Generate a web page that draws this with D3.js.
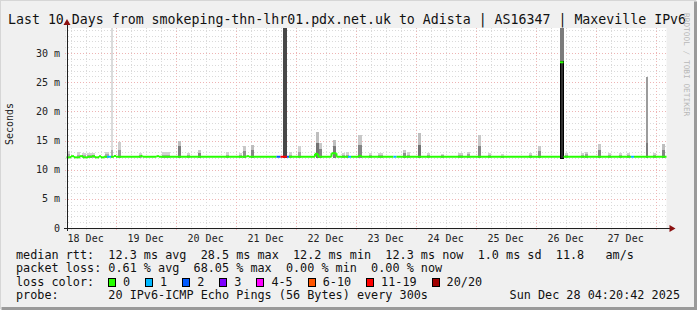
<!DOCTYPE html>
<html>
<head>
<meta charset="utf-8">
<script src="https://cdn.jsdelivr.net/npm/d3@7"></script>
<style>
  body { margin: 0; background: #f0f0f0; }
  svg { display: block; }
  text { font-family: "DejaVu Sans Mono", monospace; white-space: pre; }
</style>
</head>
<body>
<div id="chart"></div>
<script>
(function(){
  'use strict';

  var titleText = 'Last 10 Days from smokeping-thn-lhr01.pdx.net.uk to Adista | AS16347 | Maxeville IPv6';
  var endTime = Date.UTC(2025, 11, 28, 4, 20, 42);
  var spanHours = 240;

  // y ticks (ms)
  var yTicks = [0, 5, 10, 15, 20, 25, 30];

  // median rtt, step changes (hours since start, ms)
  var medHour = [0, 1.8, 3.0, 5.4, 6.6, 8.6, 10.2, 11.4, 13.0, 13.8, 15.0, 19.0, 19.8, 29.6, 30.4, 36.0, 37.0, 72.0, 73.0, 99.4, 100.6, 106.0, 108.0, 116.8, 118.0, 197.4, 198.8];
  var medMs   = [12.2, 12.4, 12.2, 12.4, 12.2, 12.3, 12.4, 12.2, 12.4, 12.2, 12.3, 12.45, 12.3, 12.45, 12.3, 12.4, 12.3, 12.4, 12.3, 12.8, 12.3, 12.9, 12.3, 12.45, 12.3, 28.5, 12.3];

  // packet loss runs (everything else is 0 lost)
  var lossStart = [16.2, 84.0, 85.6, 88.2, 112.6, 130.8, 225.8];
  var lossEnd   = [17.8, 85.6, 88.2, 89.0, 113.8, 132.0, 227.0];
  var lossLevel = [1, 2, 6, 2, 1, 1, 1];

  var lossLabels = ['0', '1', '2', '3', '4-5', '6-10', '11-19', '20/20'];
  var lossColors = ['#26ff00', '#00b8ff', '#0059ff', '#7e00ff', '#ff00ff', '#ff5500', '#ff0000', '#a10000'];

  // smoke columns: centre hour, width (h), top (ms), top of dark core (ms), tone of top / core
  var smokeHour = [0.6, 4.6, 7.0, 9.8, 16.2, 18.2, 21.0, 29.4, 39.8, 45.0, 48.6, 53.0, 64.2, 69.4, 71.0, 74.2, 87.4, 89.4, 93.0, 100.2, 101.4, 107.0, 110.6, 112.2, 117.4, 121.4, 125.4, 135.0, 136.6, 141.0, 144.6, 150.2, 157.4, 160.6, 165.0, 169.0, 174.2, 185.4, 189.0, 198.1, 199.8, 206.2, 207.8, 213.0, 217.0, 221.4, 224.6, 232.2, 235.0, 238.6];
  var smokeSpan = [1.2, 1.2, 1.6, 3.2, 1.6, 0.8, 1.2, 1.2, 3.0, 1.2, 1.2, 1.2, 1.2, 1.2, 1.2, 1.2, 1.4, 1.2, 1.2, 1.2, 1.2, 1.2, 1.2, 1.2, 1.8, 1.2, 2.0, 1.2, 1.2, 1.2, 1.2, 1.2, 2.0, 1.2, 1.2, 1.2, 1.2, 1.2, 1.2, 1.4, 1.2, 1.2, 1.2, 1.2, 1.2, 1.2, 1.2, 1.0, 1.2, 1.2];
  var smokeTop  = [13.2, 13.0, 12.9, 12.8, 13.1, 35, 14.8, 12.9, 13.0, 15.0, 12.8, 13.4, 13.0, 12.9, 14.1, 14.3, 35, 13.0, 14.0, 16.4, 14.5, 15.1, 12.9, 13.0, 16.0, 12.9, 12.8, 13.4, 13.0, 16.3, 12.9, 12.7, 12.9, 13.1, 16.0, 12.9, 12.7, 12.9, 14.1, 35, 12.9, 12.9, 13.1, 14.4, 12.9, 12.8, 12.8, 25.9, 12.8, 14.4];
  var smokeCore = [12.7, 12.6, 12.5, 12.5, 12.7, 13.3, 13.4, 12.5, 12.6, 14.0, 12.5, 12.9, 12.6, 12.5, 13.2, 13.4, 35, 12.6, 13.0, 14.6, 13.6, 14.0, 12.5, 12.6, 14.2, 12.5, 12.5, 12.9, 12.6, 14.2, 12.5, 12.5, 12.5, 12.7, 14.0, 12.5, 12.4, 12.5, 13.2, 28.5, 12.5, 12.5, 12.7, 13.3, 12.5, 12.5, 12.5, 14.5, 12.5, 13.4];
  var smokeTone = [0.1, 0.1, 0.1, 0.1, 0.1, 0.05, 0.12, 0.08, 0.1, 0.2, 0.1, 0.15, 0.1, 0.08, 0.15, 0.2, 0.82, 0.1, 0.1, 0.2, 0.15, 0.2, 0.1, 0.1, 0.15, 0.08, 0.1, 0.15, 0.1, 0.2, 0.1, 0.08, 0.12, 0.12, 0.15, 0.1, 0.08, 0.1, 0.15, 0.55, 0.1, 0.1, 0.12, 0.15, 0.1, 0.08, 0.1, 0.38, 0.1, 0.2];
  var coreTone  = [0.3, 0.3, 0.3, 0.3, 0.3, 0.3, 0.4, 0.3, 0.3, 0.55, 0.3, 0.5, 0.3, 0.3, 0.45, 0.5, 0.82, 0.3, 0.35, 0.6, 0.5, 0.55, 0.3, 0.3, 0.5, 0.3, 0.3, 0.45, 0.3, 0.6, 0.3, 0.3, 0.3, 0.35, 0.5, 0.3, 0.3, 0.3, 0.45, 0.95, 0.3, 0.3, 0.35, 0.5, 0.3, 0.3, 0.3, 0.55, 0.3, 0.5];

  var rttLine  = 'median rtt:  12.3 ms avg  28.5 ms max  12.2 ms min  12.3 ms now  1.0 ms sd  11.8   am/s';
  var lossLine = 'packet loss: 0.61 % avg  68.05 % max  0.00 % min  0.00 % now';
  var probeLine = 'probe:       20 IPv6-ICMP Echo Pings (56 Bytes) every 300s';
  var stampText = 'Sun Dec 28 04:20:42 2025';

  var W = 697, H = 310;
  var left = 66.5, right = 666.5, top = 28, bottom = 228;
  var startTime = endTime - spanHours * 3600e3;

  var x = d3.scaleUtc().domain([startTime, endTime]).range([left, right]);
  var y = d3.scaleLinear().domain([0, 34.29]).range([bottom, top]);
  var hx = function(h){ return x(startTime + h * 3600e3); };
  var grey = d3.interpolateRgb('#e4e4e4', '#262626');

  var svg = d3.select('#chart').append('svg')
    .attr('width', W).attr('height', H);

  // frame
  svg.append('rect').attr('width', W).attr('height', H).attr('fill', '#f0f0f0');
  svg.append('path').attr('d', 'M0,309 V0 H696').attr('stroke', '#d6d6d6').attr('stroke-width', 2).attr('fill', 'none');
  svg.append('path').attr('d', 'M1.5,308.5 H695.5 V1.5').attr('stroke', '#9a9a9a').attr('stroke-width', 3).attr('fill', 'none');

  // canvas
  svg.append('rect').attr('x', left).attr('y', top).attr('width', right - left).attr('height', bottom - top).attr('fill', '#ffffff');

  // grid
  var minorCol = '#dadada', majorCol = '#eeb4b4';
  var grid = svg.append('g').attr('shape-rendering', 'crispEdges').attr('fill', 'none');
  var minorMs = d3.range(1, 35).filter(function(v){ return v % 5 !== 0; });
  grid.selectAll('.hmin').data(minorMs).enter().append('line')
    .attr('x1', left - 2).attr('x2', right)
    .attr('y1', function(d){ return Math.round(y(d)) + 0.5; })
    .attr('y2', function(d){ return Math.round(y(d)) + 0.5; })
    .attr('stroke', minorCol).attr('stroke-dasharray', '1,2');
  var sixHours = d3.utcHour.every(6).range(new Date(startTime), new Date(endTime))
    .filter(function(d){ return d.getUTCHours() !== 0; });
  grid.selectAll('.vmin').data(sixHours).enter().append('line')
    .attr('x1', function(d){ return Math.round(x(d)) + 0.5; })
    .attr('x2', function(d){ return Math.round(x(d)) + 0.5; })
    .attr('y1', top).attr('y2', bottom + 2)
    .attr('stroke', minorCol).attr('stroke-dasharray', '1,2');
  grid.selectAll('.hmaj').data(yTicks.slice(1)).enter().append('line')
    .attr('x1', left - 2).attr('x2', right)
    .attr('y1', function(d){ return Math.round(y(d)) + 0.5; })
    .attr('y2', function(d){ return Math.round(y(d)) + 0.5; })
    .attr('stroke', majorCol).attr('stroke-dasharray', '1,2');
  var days = d3.utcDay.range(new Date(startTime), new Date(endTime));
  grid.selectAll('.vmaj').data(days).enter().append('line')
    .attr('x1', function(d){ return Math.round(x(d)) + 0.5; })
    .attr('x2', function(d){ return Math.round(x(d)) + 0.5; })
    .attr('y1', top).attr('y2', bottom + 2)
    .attr('stroke', majorCol).attr('stroke-dasharray', '1,2');

  // smoke
  var smoke = svg.append('g').attr('shape-rendering', 'crispEdges');
  var yc = function(v){ return y(Math.min(v, 34.29)); };
  smokeHour.forEach(function(h, i){
    var x0 = hx(h - smokeSpan[i] / 2), x1 = hx(h + smokeSpan[i] / 2);
    smoke.append('rect').attr('x', x0).attr('width', x1 - x0)
      .attr('y', yc(smokeTop[i])).attr('height', y(12.0) - yc(smokeTop[i]))
      .attr('fill', grey(smokeTone[i]));
    smoke.append('rect').attr('x', x0).attr('width', x1 - x0)
      .attr('y', yc(smokeCore[i])).attr('height', y(12.0) - yc(smokeCore[i]))
      .attr('fill', grey(coreTone[i]))
      .attr('stroke', coreTone[i] > 0.9 ? '#000' : 'none');
  });

  // median line, coloured by loss
  var levelAt = function(h){
    for (var k = 0; k < lossStart.length; k++) {
      if (h >= lossStart[k] && h < lossEnd[k]) return lossLevel[k];
    }
    return 0;
  };
  var medAt = function(h){
    var i = d3.bisectRight(medHour, h) - 1;
    return medMs[Math.max(i, 0)];
  };
  var cuts = Array.from(new Set(medHour.concat(lossStart, lossEnd, [spanHours]))).sort(d3.ascending);
  var med = svg.append('g').attr('fill', 'none').attr('stroke-width', 2);
  for (var c = 0; c < cuts.length - 1; c++) {
    var a = cuts[c], b = cuts[c + 1];
    var col = lossColors[levelAt(a)];
    var v = medAt(a);
    med.append('line').attr('x1', hx(a)).attr('x2', hx(b))
      .attr('y1', y(v) + 0.5).attr('y2', y(v) + 0.5).attr('stroke', col);
    if (c > 0) {
      var pv = medAt(cuts[c - 1]);
      if (Math.abs(pv - v) < 1) {
        med.append('line').attr('x1', hx(a)).attr('x2', hx(a))
          .attr('y1', y(pv) + 0.5).attr('y2', y(v) + 0.5).attr('stroke', col);
      }
    }
  }

  // axes
  var axisCol = '#202020', arrowCol = '#8b1010';
  svg.append('line').attr('x1', left - 3).attr('x2', right + 3).attr('y1', bottom + 0.5).attr('y2', bottom + 0.5)
    .attr('stroke', axisCol).attr('shape-rendering', 'crispEdges');
  svg.append('line').attr('x1', left + 0.5).attr('x2', left + 0.5).attr('y1', bottom + 3).attr('y2', top - 4)
    .attr('stroke', axisCol).attr('shape-rendering', 'crispEdges');
  svg.append('path').attr('d', 'M' + (right + 3) + ',' + (bottom - 3) + ' l6,3.5 l-6,3.5 z').attr('fill', arrowCol);
  svg.append('path').attr('d', 'M' + (left - 3) + ',' + (top - 3) + ' l3.5,-6 l3.5,6 z').attr('fill', arrowCol);

  svg.append('g').selectAll('text').data(yTicks).enter().append('text')
    .attr('x', 60).attr('y', function(d){ return y(d) + 3.5; })
    .attr('text-anchor', 'end').attr('font-size', 10).attr('fill', '#222')
    .text(function(d){ return d === 0 ? '0' : d + ' m'; });

  // day labels centred on noon of each day
  var fmt = d3.utcFormat('%d %b');
  svg.append('g').selectAll('text').data(days).enter().append('text')
    .attr('x', function(d){ return x(d) - 30; }).attr('y', 242)
    .attr('text-anchor', 'middle').attr('font-size', 10).attr('fill', '#222')
    .text(function(d){ return fmt(d3.utcDay.offset(d, -1)); });

  svg.append('text').attr('transform', 'translate(13,124) rotate(-90)')
    .attr('text-anchor', 'middle').attr('font-size', 10).attr('fill', '#222').text('Seconds');

  // title + watermark
  svg.append('text').attr('x', 8).attr('y', 24).attr('font-size', 13.25).attr('fill', '#111').text(titleText);
  svg.append('text').attr('transform', 'translate(684,13) rotate(90)')
    .attr('font-size', 7.8).attr('fill', '#b8b8b8').text('RRDTOOL / TOBI OETIKER');

  // legend
  var lg = svg.append('g').attr('font-size', 11.8).attr('fill', '#111');
  lg.append('text').attr('x', 16).attr('y', 258.5).text(rttLine);
  lg.append('text').attr('x', 16).attr('y', 272).text(lossLine);
  lg.append('text').attr('x', 16).attr('y', 285.5).text('loss color:');
  lg.append('text').attr('x', 16).attr('y', 299.2).text(probeLine);
  lg.append('text').attr('x', 680).attr('y', 299.2).attr('text-anchor', 'end').text(stampText);

  var bx = 108;
  lossLabels.forEach(function(lbl, i){
    lg.append('rect').attr('x', bx + 0.5).attr('y', 278.5).attr('width', 7).attr('height', 8)
      .attr('fill', lossColors[i]).attr('stroke', '#000').attr('shape-rendering', 'crispEdges');
    lg.append('text').attr('x', bx + 15).attr('y', 285.5).text(lbl);
    bx += 30 + lbl.length * 7.1;
  });
})();
</script>
</body>
</html>
